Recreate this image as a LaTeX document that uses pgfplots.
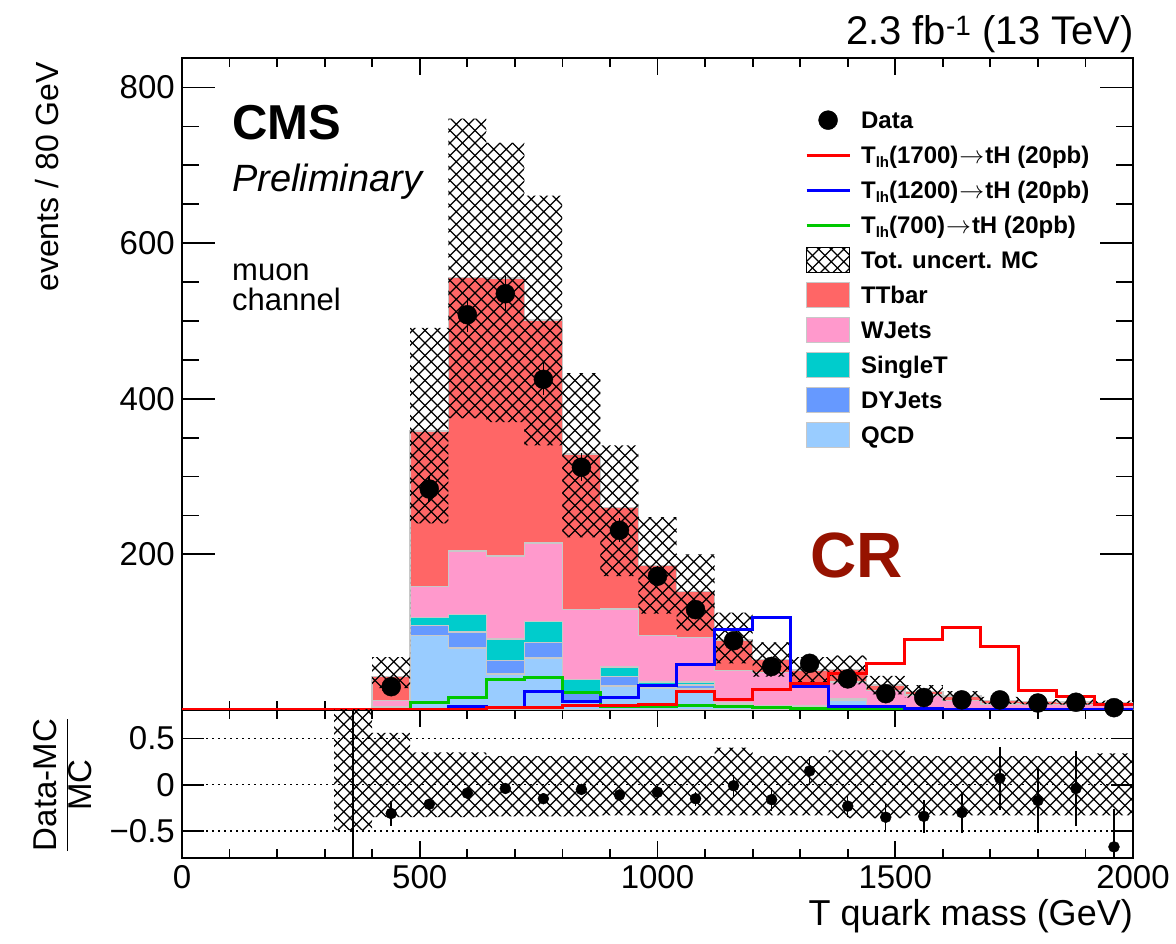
\documentclass[border=0pt]{standalone}
\usepackage{pgfplots}
\pgfplotsset{compat=1.18}
\usepackage{pgfplotstable}
\usepgfplotslibrary{fillbetween}
\usetikzlibrary{patterns}
\usepackage{fontspec}
\setmainfont{Liberation Sans}

\definecolor{cTT}{RGB}{255,102,102}
\definecolor{cWJ}{RGB}{255,153,204}
\definecolor{cST}{RGB}{0,204,204}
\definecolor{cDY}{RGB}{102,153,255}
\definecolor{cQCD}{RGB}{153,204,255}
\definecolor{cOut}{RGB}{200,200,200}
\definecolor{cCR}{RGB}{150,18,0}
\definecolor{cGreen}{RGB}{0,200,0}

\pgfdeclarepatternformonly{diagcross}{\pgfqpoint{-1pt}{-1pt}}{\pgfqpoint{13.5pt}{13.5pt}}{\pgfqpoint{12.5pt}{12.5pt}}{%
  \pgfsetlinewidth{1.1pt}%
  \pgfpathmoveto{\pgfqpoint{0pt}{0pt}}\pgfpathlineto{\pgfqpoint{12.5pt}{12.5pt}}%
  \pgfpathmoveto{\pgfqpoint{0pt}{12.5pt}}\pgfpathlineto{\pgfqpoint{12.5pt}{0pt}}%
  \pgfusepath{stroke}}

% data: bin centre, events, stat error, (Data-MC)/MC, its error
\pgfplotstableread{
x y e r re
440 30 5.5 -0.31 0.13
520 284 16.9 -0.21 0.047
600 508 22.5 -0.09 0.04
680 535 23.1 -0.04 0.042
760 425 20.6 -0.15 0.041
840 312 17.7 -0.05 0.054
920 231 15.2 -0.11 0.058
1000 172 13.1 -0.08 0.07
1080 129 11.4 -0.15 0.075
1160 89 9.4 -0.01 0.12
1240 56 7.5 -0.16 0.12
1320 60 7.7 0.15 0.15
1400 40 6.3 -0.23 0.12
1480 21 4.6 -0.35 0.15
1560 16 4.0 -0.34 0.18
1640 13 3.6 -0.30 0.22
1720 13 3.6 0.07 0.34
1800 9 3.0 -0.17 0.35
1880 10 3.2 -0.04 0.40
1960 3 1.7 -0.67 0.41
}\datatab

% MC backgrounds per bin (left edge)
\pgfplotstableread{
x qcd dy st wj tt
400 2 1 1 8 31
480 95.6 13 10 40 200
560 80 20 22.6 82 351
640 46 17.5 27.5 107 357
720 67 20 26.5 101 287
800 10 13 16 90 200
880 31 12 12 75 130
960 28 4 4 60 90
1040 27 5 4 57 59
1120 5 2 2 42 39
1200 3 1 1 43 17
1280 3 1 1 29 17.4
1360 12 2 1 21 16
1440 2 1 1 21 7
1520 1 0.5 0.5 17 5
1600 0.5 0.3 0.4 11 6
1680 0.3 0.2 0.3 7 4.5
1760 0.3 0.2 0.3 6 4.2
1840 0.3 0.2 0.3 6 3.7
1920 0.3 0.2 0.2 5 3.3
2000 0.3 0.2 0.2 5 3.3
}\stacktab

% total MC uncertainty band (main panel)
\pgfplotstableread{
x up lo
400 68 28
480 491 240
560 760 375
640 729 370
720 661 340
800 433 222
880 340 172
960 248 124
1040 200 102
1120 125 60
1200 87 43
1280 68 34
1360 70 33
1440 44 20
1520 32 16
1600 24.4 12
1680 17 8
1760 14 7.3
1840 13.7 7
1920 12 6
2000 12 6
}\unctab

% relative uncertainty band (ratio panel)
\pgfplotstableread{
x up lo
320 0.95 -0.49
400 0.56 -0.35
480 0.35 -0.35
560 0.35 -0.35
640 0.31 -0.34
720 0.31 -0.34
800 0.31 -0.34
880 0.31 -0.33
960 0.31 -0.33
1040 0.31 -0.33
1120 0.40 -0.33
1200 0.31 -0.33
1280 0.31 -0.33
1360 0.37 -0.36
1440 0.37 -0.36
1520 0.31 -0.33
1600 0.31 -0.33
1680 0.31 -0.33
1760 0.31 -0.33
1840 0.31 -0.33
1920 0.34 -0.33
2000 0.34 -0.33
}\rbandtab

% signals (left edge)
\pgfplotstableread{
x red blue green
0 0 0 0
80 0 0 0
160 0 0 0
240 0 0 0
320 0 0 0
400 0 0 0
480 0 0 10
560 0 4.5 16
640 3.5 3 39
720 3.5 24.4 42
800 6 10.7 23
880 5.6 15.9 5
960 7 32 5
1040 23.6 58.8 6
1120 12.9 104 4
1200 26.6 119 3
1280 34.3 30 2
1360 47.2 5 1
1440 60 4.3 0.5
1520 90 2 0.5
1600 106.3 1 0.3
1680 81.5 0.5 0.2
1760 24.9 0.3 0.1
1840 17.1 0.2 0.1
1920 7.3 0.1 0.1
2000 7.3 0.1 0.1
}\sigtab

\newcommand{\Tlh}{T\raisebox{-4pt}{\fontsize{15}{15}\selectfont lh}}
\newcommand{\arr}{\hspace{1pt}$\rightarrow$\hspace{1pt}}

\pgfplotsset{
  cmsaxis/.style={
    scale only axis, width=951pt, anchor=south west,
    xmin=0, xmax=2000,
    tick align=inside,
    axis line style={line width=2.2pt},
    every tick/.style={black, line width=1.8pt},
    minor tick length=9pt, major tick length=17pt,
    xtick={0,500,1000,1500,2000}, minor x tick num=4,
    scaled ticks=false,
    tick label style={font=\fontsize{33}{36}\selectfont},
    yticklabel style={inner sep=0pt, xshift=-7pt},
    xticklabel style={inner sep=0pt, yshift=-7pt},
    fill between/on layer=main,
  },
  stk/.style={const plot mark left, draw=cOut, line width=1.5pt, forget plot},
}

\begin{document}
\begin{tikzpicture}

% ---------------- main panel ----------------
\begin{axis}[cmsaxis, at={(182pt,233pt)}, height=652pt,
  ymin=0, ymax=838,
  ytick={200,400,600,800}, yticklabels={200,400,600,800}, minor y tick num=3,
  xticklabels={},
  ytick style={/pgfplots/major tick length=33pt, /pgfplots/minor tick length=17pt},
  legend cell align=left,
  legend style={at={(0.655,0.928)}, anchor=north west, draw=none, fill=none,
    inner sep=0pt, row sep=5pt, column sep=10pt,
    font=\fontsize{24}{28}\selectfont\bfseries,
    nodes={inner sep=0pt, text height=23.6pt, text depth=6.4pt}},
]
\addlegendimage{legend image code/.code={\fill[black] (21.5pt,0pt) circle (9.5pt);}}
\addlegendentry{Data}
\addlegendimage{legend image code/.code={\draw[red, line width=3pt] (0pt,0pt) -- (43pt,0pt);}}
\addlegendentry{\Tlh(1700)\arr tH (20pb)}
\addlegendimage{legend image code/.code={\draw[blue, line width=3pt] (0pt,0pt) -- (43pt,0pt);}}
\addlegendentry{\Tlh(1200)\arr tH (20pb)}
\addlegendimage{legend image code/.code={\draw[cGreen, line width=3pt] (0pt,0pt) -- (43pt,0pt);}}
\addlegendentry{\Tlh(700)\arr tH (20pb)}
\addlegendimage{legend image code/.code={\draw[black, line width=1.5pt, pattern=diagcross] (0pt,-12.5pt) rectangle (43pt,12.5pt);}}
\addlegendentry{Tot. uncert. MC}
\addlegendimage{legend image code/.code={\draw[cOut, line width=1.5pt, fill=cTT] (0pt,-12.5pt) rectangle (43pt,12.5pt);}}
\addlegendentry{TTbar}
\addlegendimage{legend image code/.code={\draw[cOut, line width=1.5pt, fill=cWJ] (0pt,-12.5pt) rectangle (43pt,12.5pt);}}
\addlegendentry{WJets}
\addlegendimage{legend image code/.code={\draw[cOut, line width=1.5pt, fill=cST] (0pt,-12.5pt) rectangle (43pt,12.5pt);}}
\addlegendentry{SingleT}
\addlegendimage{legend image code/.code={\draw[cOut, line width=1.5pt, fill=cDY] (0pt,-12.5pt) rectangle (43pt,12.5pt);}}
\addlegendentry{DYJets}
\addlegendimage{legend image code/.code={\draw[cOut, line width=1.5pt, fill=cQCD] (0pt,-12.5pt) rectangle (43pt,12.5pt);}}
\addlegendentry{QCD}

% stacked backgrounds (cumulative, drawn top layer first)
\addplot[stk, fill=cTT] table[x=x, y expr=\thisrow{qcd}+\thisrow{dy}+\thisrow{st}+\thisrow{wj}+\thisrow{tt}] {\stacktab} \closedcycle;
\addplot[stk, fill=cWJ] table[x=x, y expr=\thisrow{qcd}+\thisrow{dy}+\thisrow{st}+\thisrow{wj}] {\stacktab} \closedcycle;
\addplot[stk, fill=cST] table[x=x, y expr=\thisrow{qcd}+\thisrow{dy}+\thisrow{st}] {\stacktab} \closedcycle;
\addplot[stk, fill=cDY] table[x=x, y expr=\thisrow{qcd}+\thisrow{dy}] {\stacktab} \closedcycle;
\addplot[stk, fill=cQCD] table[x=x, y=qcd] {\stacktab} \closedcycle;

% uncertainty band
\addplot[const plot mark left, draw=none, name path=mup, forget plot] table[x=x, y=up] {\unctab};
\addplot[const plot mark left, draw=none, name path=mlo, forget plot] table[x=x, y=lo] {\unctab};
\addplot[pattern=diagcross, draw=none, forget plot] fill between[of=mup and mlo];

% signals
\addplot[const plot mark left, cGreen, line width=3pt, forget plot] table[x=x, y=green] {\sigtab};
\addplot[const plot mark left, blue, line width=3pt, forget plot] table[x=x, y=blue] {\sigtab};
\addplot[const plot mark left, red, line width=3pt, forget plot] table[x=x, y=red] {\sigtab};

% data
\addplot[only marks, mark=*, mark size=9.5pt, black, forget plot,
  error bars/.cd, y dir=both, y explicit, error mark=none,
  error bar style={line width=1.6pt}]
  table[x=x, y=y, y error=e] {\datatab};
\end{axis}

% ---------------- ratio panel ----------------
\begin{axis}[cmsaxis, at={(182pt,85pt)}, height=148pt,
  ymin=-0.79, ymax=0.807,
  ytick={-0.5,0,0.5}, yticklabels={−0.5,0,0.5},
  xticklabels={0,500,1000,1500,2000},
  ytick style={/pgfplots/major tick length=22pt},
]
\addplot[const plot mark left, draw=none, name path=rup] table[x=x, y=up] {\rbandtab};
\addplot[const plot mark left, draw=none, name path=rlo] table[x=x, y=lo] {\rbandtab};
\addplot[pattern=diagcross, draw=none] fill between[of=rup and rlo];
\addplot[black, line width=1.3pt, dash pattern=on 2pt off 4pt] coordinates {(0,0.5) (2000,0.5)};
\addplot[black, line width=1.3pt, dash pattern=on 2pt off 4pt] coordinates {(0,0) (2000,0)};
\addplot[black, line width=1.3pt, dash pattern=on 2pt off 4pt] coordinates {(0,-0.5) (2000,-0.5)};
\addplot[black, line width=1.5pt] coordinates {(360,-0.79) (360,0.807)};
\addplot[only marks, mark=*, mark size=5.5pt, black,
  error bars/.cd, y dir=both, y explicit, error mark=none,
  error bar style={line width=1.5pt}]
  table[x=x, y=r, y error=re] {\datatab};
\end{axis}

% ---------------- texts ----------------
\node[anchor=base east, inner sep=0pt, font=\fontsize{40}{42}\selectfont] at (1134pt,898pt) {2.3 fb\textsuperscript{-1} (13 TeV)};
\node[anchor=base west, inner sep=0pt, font=\fontsize{49}{50}\selectfont\bfseries] at (232pt,803pt) {CMS};
\node[anchor=base west, inner sep=0pt, font=\fontsize{38}{40}\selectfont\itshape] at (232pt,751pt) {Preliminary};
\node[anchor=base west, inner sep=0pt, font=\fontsize{31}{33}\selectfont] at (232pt,662pt) {muon};
\node[anchor=base west, inner sep=0pt, font=\fontsize{31}{33}\selectfont] at (232pt,632pt) {channel};
\node[anchor=base west, font=\fontsize{64}{66}\selectfont\bfseries, text=cCR, inner sep=0pt] at (810pt,365pt) {CR};
\node[rotate=90, anchor=east, inner sep=0pt, font=\fontsize{32}{34}\selectfont] at (47pt,881pt) {events / 80 GeV};
\node[anchor=base east, font=\fontsize{36}{38}\selectfont, inner sep=0pt] at (1133pt,18pt) {T quark mass (GeV)};
\node[rotate=90, font=\fontsize{33}{36}\selectfont] at (63pt,158pt) {$\displaystyle\frac{\mbox{Data-MC}}{\mbox{MC}}$};

\pgfresetboundingbox
\useasboundingbox (0,0) rectangle (1176pt,943pt);
\end{tikzpicture}
\end{document}
